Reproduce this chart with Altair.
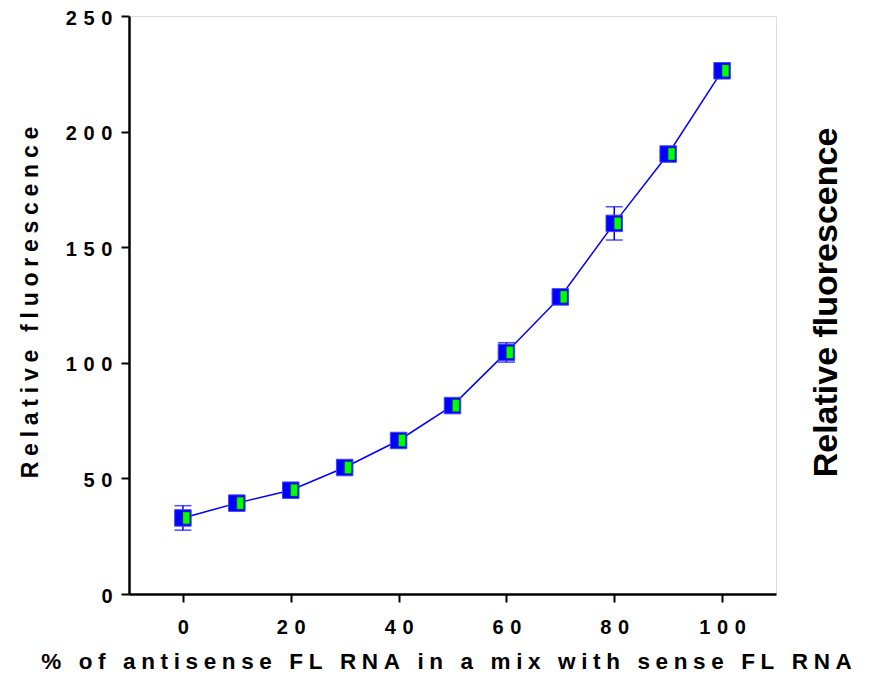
import altair as alt
import pandas as pd

pct = [0, 10, 20, 30, 40, 50, 60, 70, 80, 90, 100]
fluor = [32.9, 39.3, 44.9, 54.7, 66.4, 81.5, 104.5, 128.5, 160.3, 190.3, 226.3]
err = [5.3, 1.5, 1.5, 1.5, 1.5, 1.5, 4.2, 1.5, 7.2, 1.5, 1.5]
x_ticks = [0, 20, 40, 60, 80, 100]
y_ticks = [0, 50, 100, 150, 200, 250]
x_title = "% of antisense FL RNA in a mix with sense FL RNA"
y_title = "Relative fluorescence"

df = pd.DataFrame({
    "pct": pct,
    "fluor": fluor,
    "lo": [f - e for f, e in zip(fluor, err)],
    "hi": [f + e for f, e in zip(fluor, err)],
})

FONT = "Liberation Sans"
BLUE = "#0000FF"
GREEN = "#00FF00"
SP4 = "\u2005"   # four-per-em space (letter spacing)
SP3 = "\u2004"   # three-per-em space (label spacing)


def spaced(s, sp):
    return sp.join(s)


label_expr = "join(split(datum.label, ''), '" + SP3 + "')"

xs = alt.Scale(domain=[-10, 110], nice=False, zero=False)
ys = alt.Scale(domain=[0, 250], nice=False)

x_axis = alt.Axis(values=x_ticks, title=spaced(x_title, SP4), grid=False, domainColor="black",
                  domainWidth=2.5, tickColor="black", tickWidth=2, tickSize=8,
                  labelExpr=label_expr,
                  labelFont=FONT, labelFontWeight="bold", labelFontSize=20, labelColor="black",
                  labelPadding=15, titleFont=FONT, titleFontWeight="bold", titleFontSize=22.5,
                  titleColor="black", titleX=317, titleY=67, titleBaseline="middle",
                  titleAlign="center")
y_axis = alt.Axis(values=y_ticks, title=spaced(y_title, SP4), grid=False, domainColor="black",
                  domainWidth=2.5, tickColor="black", tickWidth=2, tickSize=8,
                  labelExpr=label_expr, labelOffset=2,
                  labelFont=FONT, labelFontWeight="bold", labelFontSize=20, labelColor="black",
                  labelPadding=9, titleFont=FONT, titleFontWeight="bold", titleFontSize=23,
                  titleColor="black", titleAngle=270, titleX=-99, titleY=286,
                  titleBaseline="middle", titleAlign="center")

base = alt.Chart(df)
X = alt.X("pct:Q", scale=xs, axis=x_axis)
Y = alt.Y("fluor:Q", scale=ys, axis=y_axis)

line = base.mark_line(color=BLUE, strokeWidth=1.5).encode(x=X, y=Y)
bars = base.mark_rule(color=BLUE, strokeWidth=1.5).encode(
    x=alt.X("pct:Q", scale=xs), y=alt.Y("lo:Q", scale=ys), y2="hi:Q")
cap_lo = base.mark_tick(color=BLUE, orient="horizontal", size=17, thickness=1.5).encode(
    x=alt.X("pct:Q", scale=xs), y=alt.Y("lo:Q", scale=ys))
cap_hi = base.mark_tick(color=BLUE, orient="horizontal", size=17, thickness=1.5).encode(
    x=alt.X("pct:Q", scale=xs), y=alt.Y("hi:Q", scale=ys))
sq = base.mark_point(shape="square", filled=True, size=272, fill=BLUE, stroke="#4444FF",
                     strokeWidth=1, opacity=1).encode(x=X, y=Y)
half = base.mark_point(shape="M0,-0.72L0.82,-0.72L0.82,0.72L0,0.72Z", filled=True, size=272,
                       fill=GREEN, stroke="#006600", strokeWidth=0.4, opacity=1).encode(x=X, y=Y)

right = base.mark_point(opacity=0).encode(
    x=alt.X("pct:Q", scale=xs),
    y=alt.Y("fluor:Q", scale=ys, axis=alt.Axis(orient="right", title=y_title, labels=False,
            ticks=False, domain=False, grid=False, titleFont=FONT, titleFontWeight="bold",
            titleFontSize=34, titleColor="black", titleAngle=270, titleX=50, titleY=286,
            titleBaseline="middle", titleAlign="center")))

main = alt.layer(line, bars, cap_lo, cap_hi, sq, half)
chart = alt.layer(main, right).resolve_scale(y="independent").properties(
    width=647, height=578,
    autosize=alt.AutoSizeParams(type="none"),
    padding={"left": 121, "top": 8, "right": 86, "bottom": 81},
).configure_view(stroke=None).configure(background="white")

chart.save("out.html", embed_options={"renderer": "svg", "actions": False})
